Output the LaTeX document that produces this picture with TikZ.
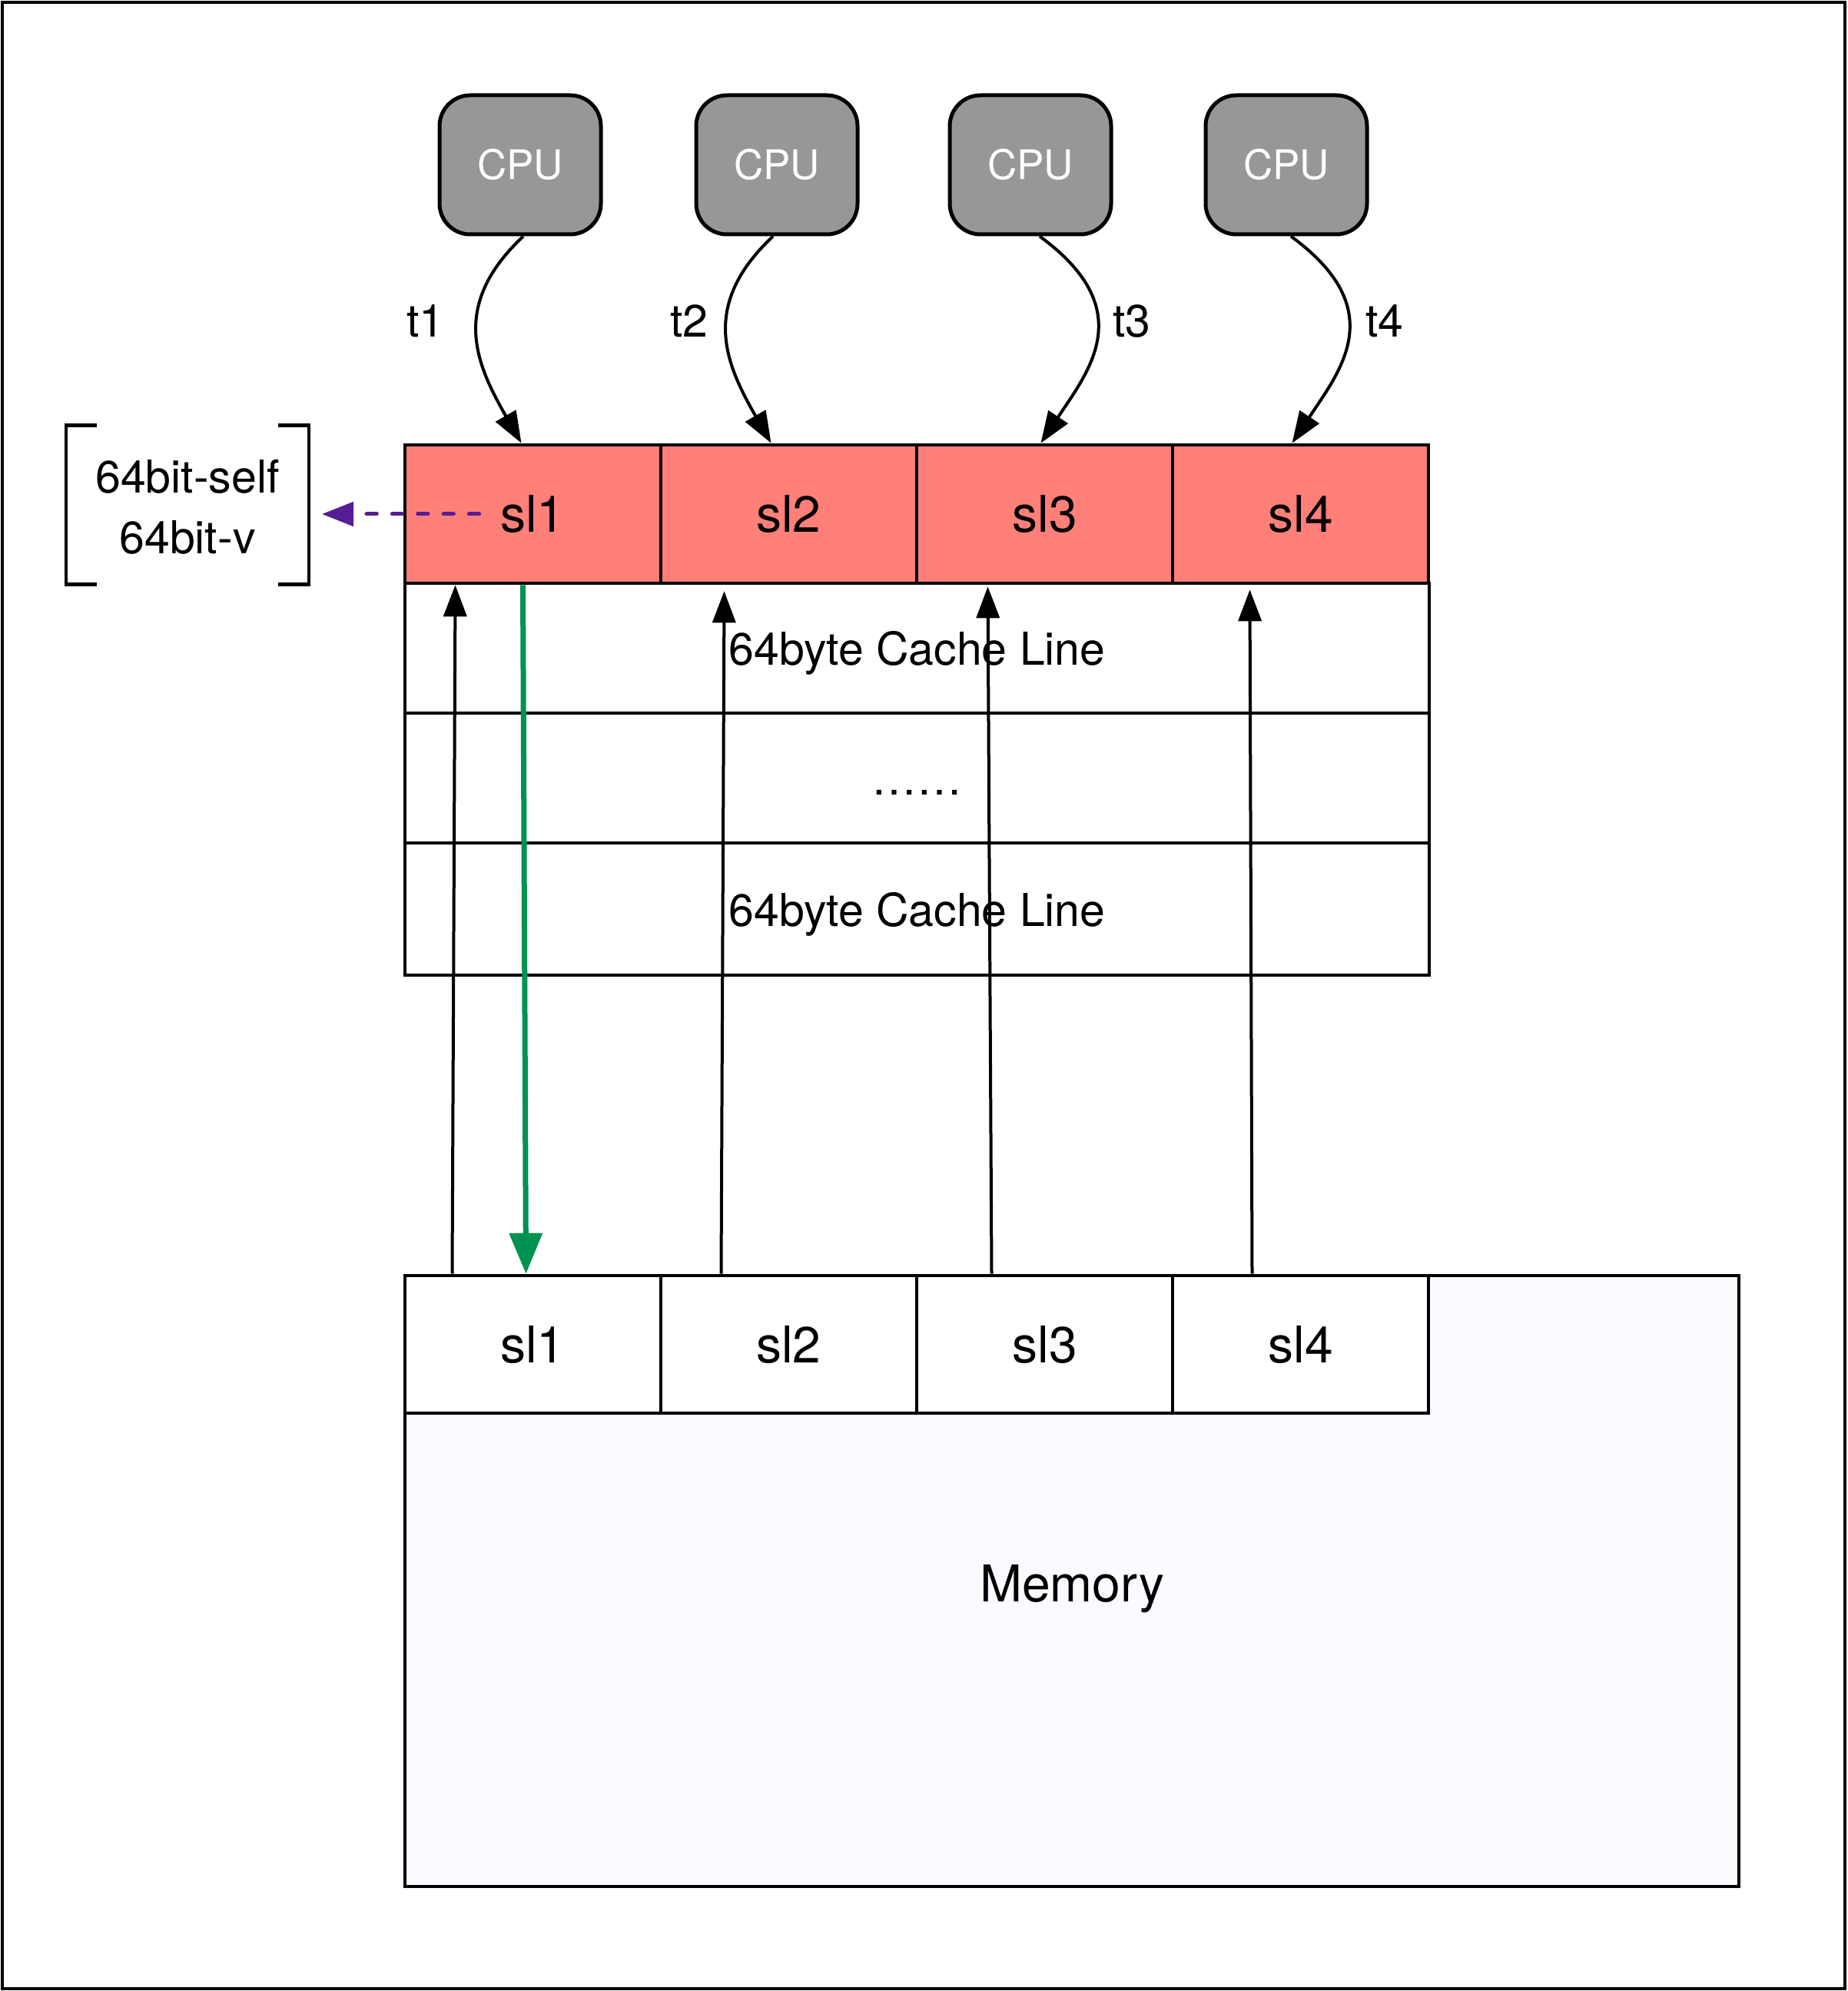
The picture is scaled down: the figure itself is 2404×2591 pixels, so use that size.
\documentclass[tikz,border=0pt]{standalone}
\usepackage{fontspec}
\setmainfont{TeX Gyre Heros}
\usetikzlibrary{arrows.meta,calc,backgrounds}
\definecolor{cpugray}{RGB}{151,151,151}
\definecolor{slred}{RGB}{255,127,121}
\definecolor{memfill}{RGB}{250,250,255}
\definecolor{arrpurple}{RGB}{86,29,148}
\definecolor{arrgreen}{RGB}{0,146,80}
\begin{document}
\begin{tikzpicture}[x=0.3pt,y=-0.3pt,
  cpu/.style={draw, line width=1.5pt, fill=cpugray, rounded corners=12pt,
    minimum width=63pt, minimum height=54.3pt, inner sep=0pt, text=white,
    font=\fontsize{15.9pt}{19pt}\selectfont},
  slcell/.style={draw, line width=1.4pt, minimum width=99.9pt, minimum height=54pt,
    inner sep=0pt, font=\fontsize{19.8pt}{24pt}\selectfont},
  rowbox/.style={draw, line width=1.4pt, fill=white, minimum width=399.9pt, inner sep=0pt,
    text depth=0pt, font=\fontsize{17.7pt}{21pt}\selectfont},
  lbl/.style={inner sep=0pt, font=\fontsize{17.7pt}{21pt}\selectfont},
  arr/.style={line width=1.2pt, -{Triangle[length=12.3pt,width=9pt]}},
  garr/.style={line width=2.1pt, draw=arrgreen, -{Triangle[length=15.9pt,width=12.6pt,fill=arrgreen]}},
  parr/.style={line width=1.5pt, draw=arrpurple, dash pattern=on 4pt off 6pt, line cap=round,
    -{Triangle[length=12.3pt,width=9.3pt,fill=arrpurple]}},
  brk/.style={line width=1.4pt}
]
\useasboundingbox (0,0) rectangle (2404,2591);
\fill[white] (0,0) rectangle (2404,2591);
\draw[line width=1.4pt] (3,3) rectangle (2401,2588);

% CPUs
\node[cpu] (cpu1) at (677,214.5) {CPU};
\node[cpu] (cpu2) at (1011,214.5) {CPU};
\node[cpu] (cpu3) at (1341,214.5) {CPU};
\node[cpu] (cpu4) at (1674,214.5) {CPU};

% thread labels
\node[lbl] (t1) at (554,418) {t1};
\node[lbl] (t2) at (897,418) {t2};
\node[lbl] (t3) at (1473,418) {t3};
\node[lbl] (t4) at (1802,418) {t4};

% cache block
\node[rowbox, minimum height=50.7pt] (r2) at (1193.5,843.5) {64byte Cache Line};
\node[rowbox, minimum height=50.7pt] (r3) at (1193.5,1012.5) {\vphantom{A}……};
\node[rowbox, minimum height=51.6pt] (r4) at (1193.5,1183) {64byte Cache Line};
\node[slcell, fill=slred] (c1) at (693.5,669) {sl1};
\node[slcell, fill=slred] (c2) at (1026.5,669) {sl2};
\node[slcell, fill=slred] (c3) at (1359.5,669) {sl3};
\node[slcell, fill=slred] (c4) at (1692.5,669) {sl4};

% memory block
\node[draw, line width=1.4pt, fill=memfill, minimum width=520.8pt, minimum height=238.5pt,
  inner sep=0pt, text height=16pt, text depth=0pt,
  font=\fontsize{19.8pt}{24pt}\selectfont] (mem) at (1395,2057.5) {Memory};
\node[slcell, fill=white, minimum height=53.7pt] (m1) at (693.5,1749.5) {sl1};
\node[slcell, fill=white, minimum height=53.7pt] (m2) at (1026.5,1749.5) {sl2};
\node[slcell, fill=white, minimum height=53.7pt] (m3) at (1359.5,1749.5) {sl3};
\node[slcell, fill=white, minimum height=53.7pt] (m4) at (1692.5,1749.5) {sl4};

% shadows
\begin{scope}[on background layer]
  \foreach \k in {1,...,6}{
    \fill[black, opacity=0.05] ($(c1.north west)+(4-\k*1.5,4-\k*1.0)$) rectangle ($(r4.south east)+(4+\k*1.5,6+\k*1.5)$);
    \fill[black, opacity=0.05] ($(mem.north west)+(4-\k*1.5,4-\k*1.0)$) rectangle ($(mem.south east)+(4+\k*1.5,6+\k*1.5)$);
  }
\end{scope}

% field bracket
\node[lbl, outer sep=0pt, minimum width=94.8pt, minimum height=61.5pt, align=center] (fmt) at (244,660)
  {64bit-self\\[2.5pt]64bit-v};
\draw[brk] ($(fmt.north west)+(40,-4)$) -- ($(fmt.north west)+(0,-4)$) -- ($(fmt.south west)+(0,-2)$) -- +(40,0);
\draw[brk] ($(fmt.north east)+(-40,-4)$) -- ($(fmt.north east)+(0,-4)$) -- ($(fmt.south east)+(0,-2)$) -- +(-40,0);

% CPU -> cache curves
\draw[arr] ($(cpu1.south)+(4,0)$) .. controls +(-96,90) and +(-59,-103) .. ($(c1.north)+(-15,0)$);
\draw[arr] ($(cpu2.south)+(-5,0)$) .. controls +(-96,90) and +(-59,-103) .. ($(c2.north)+(-23,0)$);
\draw[arr] ($(cpu3.south)+(12,0)$) .. controls +(130,95) and +(63,-95) .. ($(c3.north)+(-5,0)$);
\draw[arr] ($(cpu4.south)+(6,0)$) .. controls +(130,95) and +(63,-95) .. ($(c4.north)+(-11,0)$);

% memory -> cache
\draw[arr] ($(m1.north)+(-105,0)$) -- ($(c1.south)+(-101,0)$);
\draw[arr] ($(m2.north)+(-88,0)$) -- ($(c2.south)+(-84,8)$);
\draw[arr] ($(m3.north)+(-69,0)$) -- ($(c3.south)+(-74,2)$);
\draw[arr] ($(m4.north)+(-63,0)$) -- ($(c4.south)+(-66,6)$);

% cache -> memory (green)
\draw[garr] ($(c1.south)+(-13,0)$) -- ($(m1.north)+(-9,0)$);

% sl1 -> field bracket (dashed)
\coordinate (dstart) at ($(c1.west)+(99,0)$);
\draw[parr, shorten >=5.1pt] (dstart) -- (dstart -| fmt.east);
\end{tikzpicture}
\end{document}
